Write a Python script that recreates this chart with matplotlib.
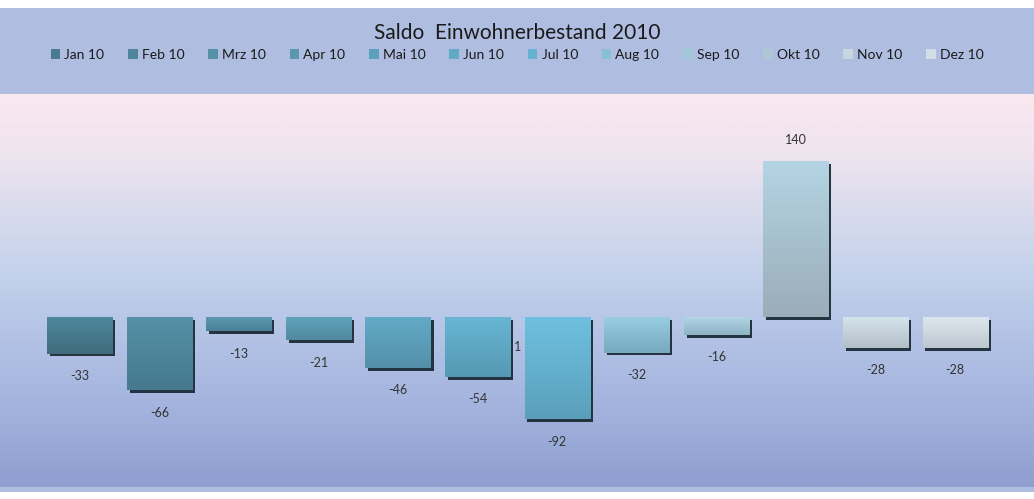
import matplotlib
matplotlib.use('Agg')
import matplotlib.pyplot as plt
import matplotlib.patheffects as pe
from matplotlib.patches import Patch
from matplotlib.colors import LinearSegmentedColormap
import numpy as np

plt.rcParams['font.family'] = ['Lato', 'DejaVu Sans']

months = ['Jan 10', 'Feb 10', 'Mrz 10', 'Apr 10', 'Mai 10', 'Jun 10',
          'Jul 10', 'Aug 10', 'Sep 10', 'Okt 10', 'Nov 10', 'Dez 10']
saldo = [-33, -66, -13, -21, -46, -54, -92, -32, -16, 140, -28, -28]
title = 'Saldo  Einwohnerbestand 2010'

# gradient per bar (top colour, bottom colour)
topColors = ['#4f879c', '#5590a6', '#5b9ab2', '#62a4bd', '#63abc7', '#68b6d4',
             '#6fc0e0', '#98cde0', '#b0d6e6', '#b4d4e4', '#d6e4ec', '#dfe8ef']
bottomColors = ['#3f6b7d', '#467a8e', '#4b8198', '#5089a0', '#5390aa', '#5599b3',
                '#5aa0bb', '#78a9bf', '#8eb3c4', '#9badb9', '#b3bfc8', '#bec7cf']
legendColors = ['#497b8f', '#4f859a', '#568fa6', '#5b97b0', '#5ea0bb', '#62a9c6',
                '#67b2d0', '#88bfd4', '#a2c8d8', '#afc8d6', '#c8d6df', '#d2dde5']

W, H = 1034, 499
fig = plt.figure(figsize=(W / 100, H / 100), dpi=100)

# background (pixel coordinates)
bg = fig.add_axes([0, 0, 1, 1])
bg.set_xlim(0, W)
bg.set_ylim(H, 0)
bg.axis('off')
bg.add_patch(plt.Rectangle((0, 8), W, 86, color='#aebde0', lw=0))
gradCmap = LinearSegmentedColormap.from_list(
    'bgGrad', [(0, '#fbe8ef'), (0.15, '#eee4ef'), (0.45, '#c4d2ec'), (0.8, '#a2b3de'), (1, '#8e9fd0')])
bg.imshow(np.linspace(0, 1, 256).reshape(-1, 1), cmap=gradCmap, aspect='auto',
          extent=(0, W, 487, 94), zorder=1)
bg.add_patch(plt.Rectangle((0, 487), W, 5, color='#aebde0', lw=0, zorder=2))

ax = fig.add_axes([40 / W, 12 / H, 955 / W, 393 / H])
ax.patch.set_alpha(0)

x = np.arange(len(saldo))
bars = ax.bar(x, saldo, width=0.82, linewidth=0, zorder=2)
for i, bar in enumerate(bars):
    bar.set_facecolor(bottomColors[i])
    bar.set_path_effects([pe.SimplePatchShadow(offset=(2, -2), shadow_rgbFace='#1c2c38', alpha=0.95),
                          pe.Normal()])
    cmap = LinearSegmentedColormap.from_list('b%d' % i, [topColors[i], bottomColors[i]])
    x0 = bar.get_x()
    yTop = max(bar.get_height(), 0)
    yBottom = min(bar.get_height(), 0)
    im = ax.imshow(np.linspace(0, 1, 64).reshape(-1, 1), cmap=cmap, aspect='auto',
                   extent=(x0, x0 + bar.get_width(), yBottom, yTop), origin='upper', zorder=3)
    im.set_clip_path(bar)

ax.set_xlim(-0.5, 11.5)
ax.set_ylim(-152.6, 200)
ax.axis('off')

for i, v in enumerate(saldo):
    offset = 15 if v >= 0 else -16
    ax.annotate(str(v), (i, v), xytext=(0, offset), textcoords='offset points',
                ha='center', va='center', fontsize=9, color='#333333')

# stray data label in the original
ax.text(5.5, -27, '1', ha='center', va='center', fontsize=9, color='#333333')

fig.text(0.5, 1 - 33 / H, title, ha='center', va='center', fontsize=15, color='#1a1a1a')

handles = [Patch(facecolor=c, edgecolor='none') for c in legendColors]
fig.legend(handles, months, loc='center', bbox_to_anchor=(517 / W, 1 - 55 / H), ncol=12,
           frameon=False, fontsize=10, handlelength=0.7, handleheight=0.7,
           handletextpad=0.3, columnspacing=1.7, labelcolor='#1a1a1a')

fig.savefig('out.png', dpi=100)
